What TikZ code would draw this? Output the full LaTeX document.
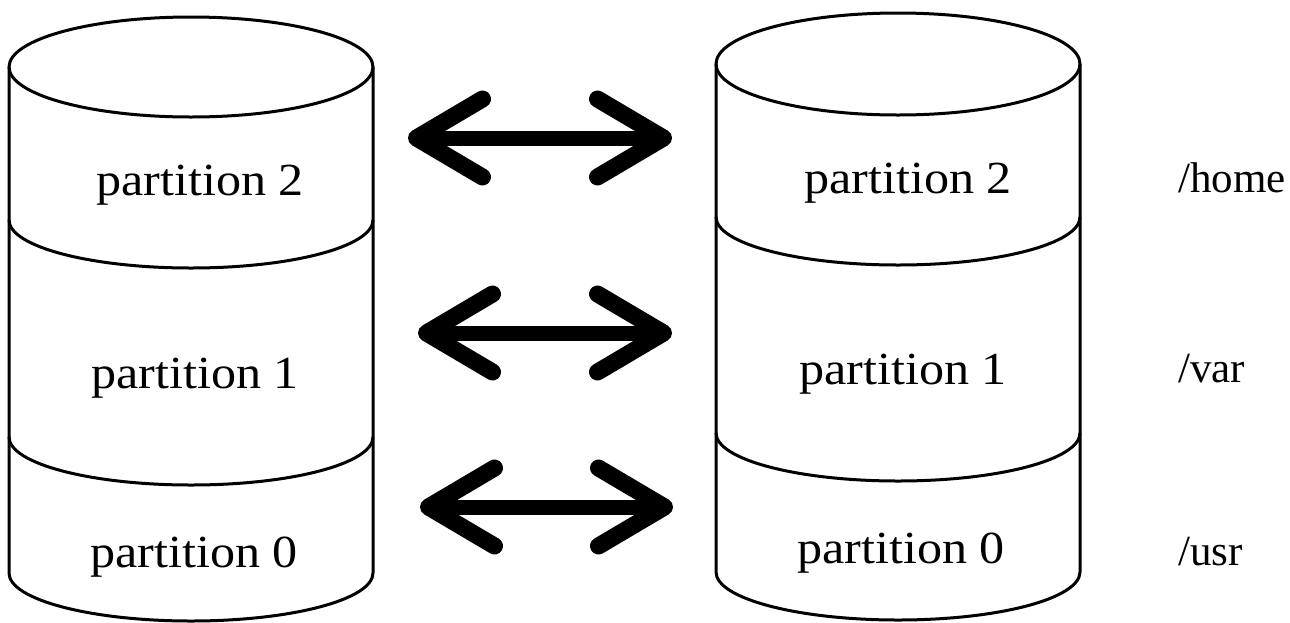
\documentclass[tikz,border=0pt]{standalone}
\usepackage{fontspec}
\setmainfont{Liberation Serif}
\newfontfamily\partfont[FakeStretch=1.09]{Liberation Serif}
\usetikzlibrary{arrows.meta}
\tikzset{
  cyl/.style={line width=3pt, line join=round, line cap=round},
  plabel/.style={anchor=base, inner sep=0pt, font=\partfont\fontsize{46}{52}\selectfont},
  mlabel/.style={anchor=base west, inner sep=0pt, font=\fontsize{43}{50}\selectfont},
  bigarrow/.style={line width=15pt,
    {Straight Barb[length=66pt,width=78pt,round,line width=17pt]}-{Straight Barb[length=66pt,width=78pt,round,line width=17pt]}}
}
\begin{document}
\begin{tikzpicture}[x=1pt,y=-1pt]
\path[fill=white,use as bounding box] (0,0) rectangle (1290,622);
% left cylinder
\draw[cyl] (191,67) ellipse [x radius=182, y radius=50];
\draw[cyl] (9,67) -- (9,573) arc[start angle=180,end angle=0,x radius=182,y radius=48] -- (373,67);
\draw[cyl] (9,220) arc[start angle=180,end angle=0,x radius=182,y radius=48];
\draw[cyl] (9,437) arc[start angle=180,end angle=0,x radius=182,y radius=48];
% right cylinder
\draw[cyl] (898,64) ellipse [x radius=182, y radius=51];
\draw[cyl] (716,64) -- (716,572) arc[start angle=180,end angle=0,x radius=182,y radius=48] -- (1080,64);
\draw[cyl] (716,217) arc[start angle=180,end angle=0,x radius=182,y radius=48];
\draw[cyl] (716,433) arc[start angle=180,end angle=0,x radius=182,y radius=48];
% partition labels
\node[plabel] (l2) at (200,195) {partition 2};
\node[plabel] (l1) at (195,388) {partition 1};
\node[plabel] (l0) at (194,567) {partition 0};
\node[plabel] (r2) at (908,193) {partition 2};
\node[plabel] (r1) at (903,384) {partition 1};
\node[plabel] (r0) at (901,563) {partition 0};
% mount labels
\node[mlabel] (home) at (1178,192) {/home};
\node[mlabel] (var) at (1178,382) {/var};
\node[mlabel] (usr) at (1178,565) {/usr};
% arrows
\coordinate (a2l) at (408,138);
\coordinate (a2r) at (672,138);
\coordinate (a1l) at (418,333);
\coordinate (a1r) at (672,333);
\coordinate (a0l) at (420,507);
\coordinate (a0r) at (673,507);
\draw[bigarrow] (a2l) -- (a2r);
\draw[bigarrow] (a1l) -- (a1r);
\draw[bigarrow] (a0l) -- (a0r);
\end{tikzpicture}
\end{document}
